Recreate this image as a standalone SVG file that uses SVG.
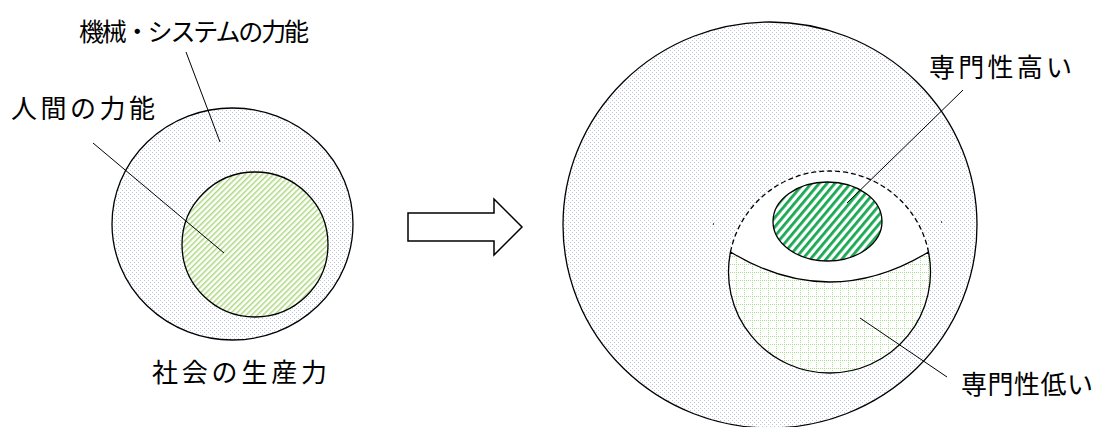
<svg xmlns="http://www.w3.org/2000/svg" width="1104" height="427" viewBox="0 0 1104 427">
<style>
text{font-family:"Noto Sans CJK JP","Noto Sans CJK SC",sans-serif;fill:#000;}
.ln{stroke:#000;stroke-width:1;fill:none;}
.bd{stroke:#000;stroke-width:1.3;}
</style>
<defs>
<pattern id="dots" width="4" height="4" patternUnits="userSpaceOnUse">
<rect width="4" height="4" fill="#fff"/>
<rect x="0" y="0" width="1" height="1" fill="#bcc4de"/>
<rect x="2" y="2" width="1" height="1" fill="#bcc4de"/>
</pattern>
<pattern id="lstripe" width="4" height="4" patternUnits="userSpaceOnUse" patternTransform="rotate(45)">
<rect width="4" height="4" fill="#fff"/>
<rect x="0" y="0" width="1.5" height="4" fill="#add97f"/>
</pattern>
<pattern id="gstripe" width="6" height="6" patternUnits="userSpaceOnUse" patternTransform="rotate(40)">
<rect width="6" height="6" fill="#fff"/>
<rect x="0" y="0" width="2.8" height="6" fill="#19a853"/>
</pattern>
<pattern id="grid" width="8" height="8" patternUnits="userSpaceOnUse">
<rect width="8" height="8" fill="#fff"/>
<line x1="0.5" y1="0" x2="0.5" y2="8" stroke="#aadd8a" stroke-width="1" stroke-dasharray="1 1"/>
<line x1="0" y1="0.5" x2="8" y2="0.5" stroke="#aadd8a" stroke-width="1" stroke-dasharray="1 1"/>
</pattern>
</defs>

<g id="left-outer">
<ellipse cx="232.5" cy="224" rx="120.5" ry="116" fill="url(#dots)" class="bd"/>
</g>
<g id="left-inner">
<ellipse cx="255" cy="244.5" rx="73" ry="72.5" fill="url(#lstripe)" class="bd"/>
</g>

<g id="arrow">
<polygon points="408,213 494,213 494,199 522,227 494,255 494,241 408,241" fill="#fff" stroke="#000" stroke-width="1.5"/>
</g>

<g id="right-outer">
<ellipse cx="770" cy="225" rx="207" ry="203" fill="url(#dots)" class="bd"/>
</g>
<g id="right-upper">
<path d="M730.5 252 A101 101 0 0 1 928.5 252 Q829.5 312 730.5 252 Z" fill="#fff" stroke="none"/>
<path d="M730.5 252 A101 101 0 0 1 928.5 252" fill="none" stroke="#000" stroke-width="1.3" stroke-dasharray="5 3"/>
</g>
<g id="low-specialty">
<path d="M730.5 252 Q829.5 312 928.5 252 A101 101 0 1 1 730.5 252 Z" fill="url(#grid)" class="bd"/>
</g>
<g id="high-specialty">
<ellipse cx="827.5" cy="221.5" rx="54.5" ry="39.5" fill="url(#gstripe)" class="bd"/>
</g>
<g id="specks">
<rect x="713" y="223" width="1" height="2" fill="#555"/>
<rect x="941" y="221" width="1" height="2" fill="#555"/>
</g>

<g id="connectors">
<line class="ln" x1="186" y1="52" x2="220" y2="142"/>
<line class="ln" x1="93" y1="143" x2="224" y2="253"/>
<line class="ln" x1="963" y1="90" x2="847" y2="203"/>
<line class="ln" x1="860" y1="318" x2="947" y2="377"/>
</g>

<g id="labels">
<text x="79" y="41" font-size="25" textLength="230" lengthAdjust="spacing">機械・システムの力能</text>
<text x="11" y="118" font-size="26" textLength="144" lengthAdjust="spacing">人間の力能</text>
<text x="152" y="382" font-size="26" textLength="175" lengthAdjust="spacing">社会の生産力</text>
<text x="929" y="77" font-size="26" textLength="143" lengthAdjust="spacing">専門性高い</text>
<text x="961" y="394" font-size="26" textLength="132" lengthAdjust="spacing">専門性低い</text>
</g>
</svg>
